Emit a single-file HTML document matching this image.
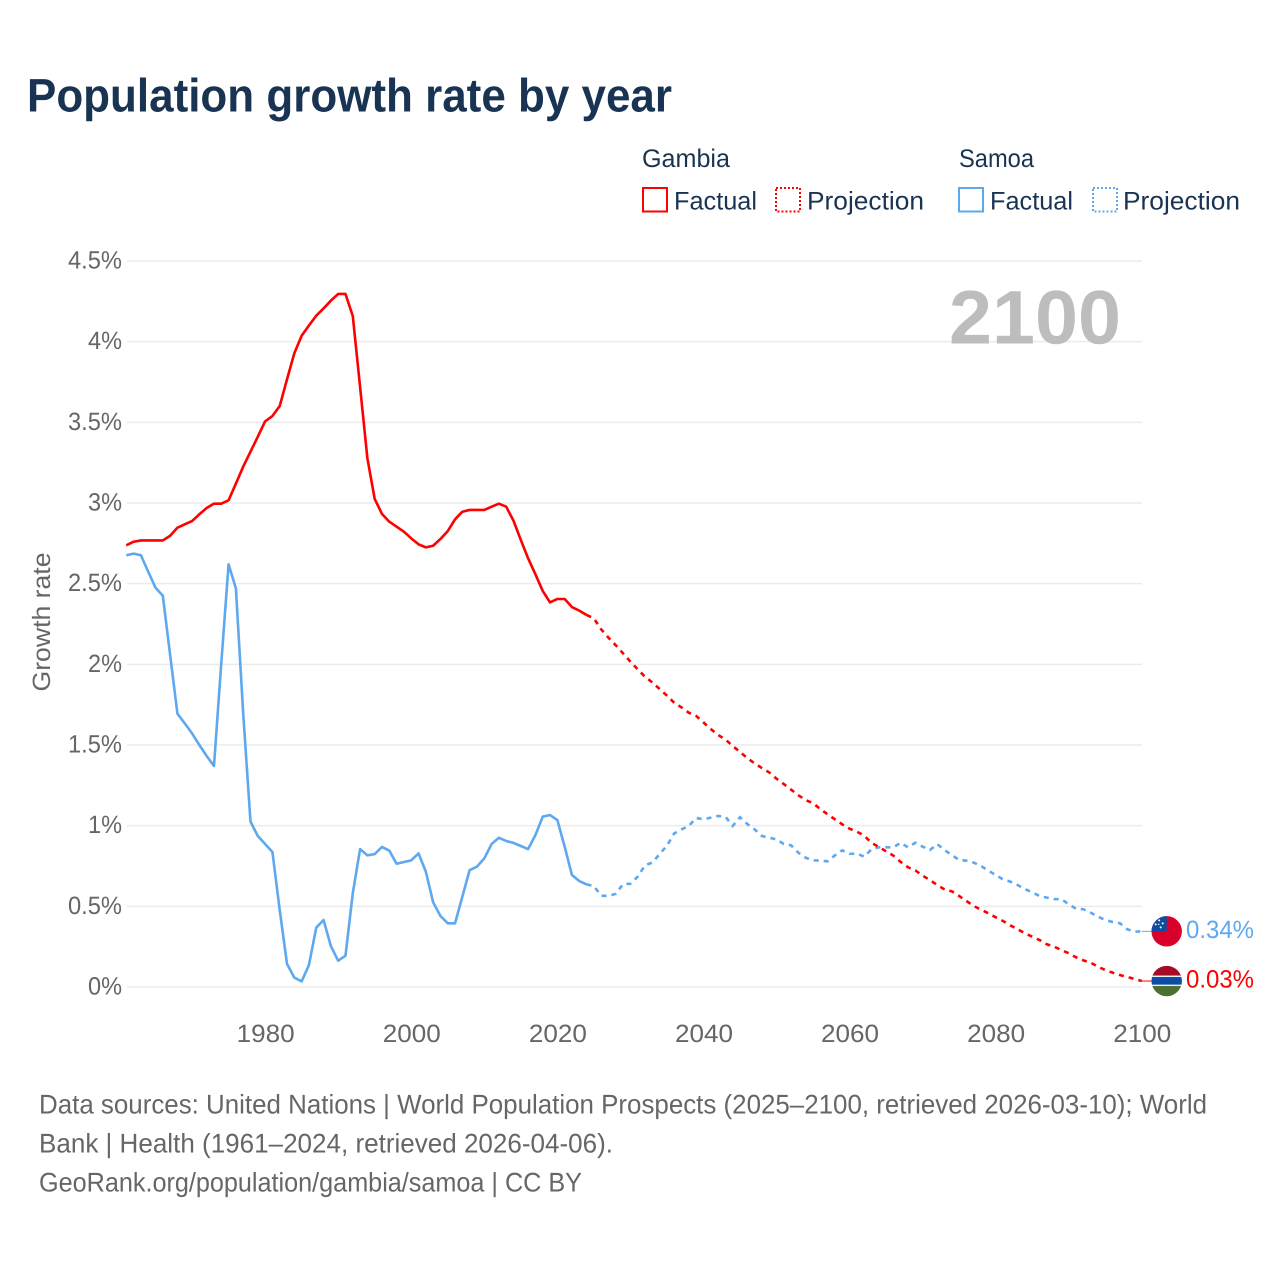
<!DOCTYPE html>
<html lang="en">
<head>
<meta charset="utf-8">
<title>Population growth rate by year</title>
<style>
html,body{margin:0;padding:0;background:#fff;}
svg{display:block;font-family:"Liberation Sans",sans-serif;text-rendering:geometricPrecision;}
</style>
</head>
<body>
<svg id="chart" xmlns="http://www.w3.org/2000/svg" width="1280" height="1280" viewBox="0 0 1280 1280">
  <rect width="1280" height="1280" fill="#fff"/>
  <text x="27" y="111.5" font-size="47" font-weight="700" fill="#193353" textLength="645" lengthAdjust="spacingAndGlyphs">Population growth rate by year</text>

  <g font-size="25.5" fill="#193353">
    <text x="642" y="167" textLength="88" lengthAdjust="spacingAndGlyphs">Gambia</text>
    <rect x="643" y="188" width="24" height="23.5" fill="none" stroke="#ff0000" stroke-width="2"/>
    <text x="674" y="209.5" textLength="83" lengthAdjust="spacingAndGlyphs">Factual</text>
    <rect x="776" y="188" width="24" height="23.5" fill="none" stroke="#ff0000" stroke-width="2" stroke-dasharray="2 2"/>
    <text x="807" y="209.5" textLength="117" lengthAdjust="spacingAndGlyphs">Projection</text>
    <text x="959" y="167" textLength="75" lengthAdjust="spacingAndGlyphs">Samoa</text>
    <rect x="959" y="188" width="24" height="23.5" fill="none" stroke="#5ea8ef" stroke-width="2"/>
    <text x="990" y="209.5" textLength="83" lengthAdjust="spacingAndGlyphs">Factual</text>
    <rect x="1093" y="188" width="24" height="23.5" fill="none" stroke="#5ea8ef" stroke-width="2" stroke-dasharray="2 2"/>
    <text x="1123" y="209.5" textLength="117" lengthAdjust="spacingAndGlyphs">Projection</text>
  </g>

  <g id="grid"></g>
  <g id="yticks" font-size="25" fill="#666"></g>
  <g id="xticks" font-size="25" fill="#666"></g>
  <text transform="translate(50,622) rotate(-90)" text-anchor="middle" font-size="25" fill="#666" textLength="139" lengthAdjust="spacingAndGlyphs">Growth rate</text>
  <text x="949" y="343.5" font-size="76" font-weight="700" fill="#bdbdbd" textLength="172" lengthAdjust="spacingAndGlyphs">2100</text>
  <g id="series"></g>

  <g id="flag-samoa">
    <clipPath id="clip-samoa"><circle cx="0" cy="0" r="15.2"/></clipPath>
    <g clip-path="url(#clip-samoa)">
      <rect x="-16" y="-16" width="32" height="32" fill="#d9002c"/>
      <rect x="-16" y="-16" width="16" height="16" fill="#0b4ea2"/>
      <circle cx="-7.5" cy="-11" r="1" fill="#fff"/><circle cx="-4" cy="-8" r="1" fill="#fff"/>
      <circle cx="-11" cy="-7" r="1" fill="#fff"/><circle cx="-6" cy="-4" r="1" fill="#fff"/>
      <circle cx="-8" cy="-7" r=".7" fill="#fff"/>
    </g>
  </g>
  <g id="flag-gambia">
    <clipPath id="clip-gambia"><circle cx="0" cy="0" r="15.2"/></clipPath>
    <g clip-path="url(#clip-gambia)">
      <rect x="-16" y="-16" width="32" height="11" fill="#a50a26"/>
      <rect x="-16" y="-5.5" width="32" height="11.5" fill="#e8eef5"/>
      <rect x="-16" y="-4" width="32" height="7.6" fill="#0c4ca3"/>
      <rect x="-16" y="5" width="32" height="11" fill="#4c7031"/>
    </g>
  </g>

  <text id="end-label-samoa" x="1186" font-size="25" fill="#5ea8ef" textLength="68" lengthAdjust="spacingAndGlyphs"></text>
  <text id="end-label-gambia" x="1186" font-size="25" fill="#ff0000" textLength="68" lengthAdjust="spacingAndGlyphs"></text>

  <g font-size="27" fill="#666">
    <text x="39" y="1113.5" textLength="1168" lengthAdjust="spacingAndGlyphs">Data sources: United Nations | World Population Prospects (2025–2100, retrieved 2026-03-10); World</text>
    <text x="39" y="1152.5" textLength="574" lengthAdjust="spacingAndGlyphs">Bank | Health (1961–2024, retrieved 2026-04-06).</text>
    <text x="39" y="1191.5" textLength="543" lengthAdjust="spacingAndGlyphs">GeoRank.org/population/gambia/samoa | CC BY</text>
  </g>
</svg>

<script>
const firstYear = 1961;
const lastYear = 2100;
const yTickValues = [0, 0.5, 1, 1.5, 2, 2.5, 3, 3.5, 4, 4.5];
const yTickLabels = ["0%", "0.5%", "1%", "1.5%", "2%", "2.5%", "3%", "3.5%", "4%", "4.5%"];
const xTickYears = [1980, 2000, 2020, 2040, 2060, 2080, 2100];
const endLabelGambia = "0.03%";
const endLabelSamoa = "0.34%";

// 1961-2024
const gambiaFactual = [2.738,2.76,2.768,2.768,2.768,2.768,2.797,2.847,2.868,2.888,2.93,2.969,2.996,2.996,3.017,3.12,3.225,3.318,3.411,3.506,3.539,3.601,3.767,3.928,4.037,4.1,4.161,4.206,4.254,4.296,4.296,4.159,3.72,3.277,3.025,2.932,2.884,2.853,2.822,2.781,2.744,2.725,2.735,2.777,2.826,2.899,2.946,2.957,2.957,2.957,2.977,2.996,2.977,2.89,2.771,2.657,2.558,2.455,2.384,2.405,2.405,2.355,2.333,2.306];
// 2025-2100
const gambiaProjection = [2.285,2.217,2.165,2.118,2.068,2.017,1.969,1.923,1.888,1.847,1.806,1.762,1.733,1.70,1.68,1.64,1.599,1.562,1.535,1.494,1.457,1.419,1.386,1.357,1.33,1.291,1.258,1.223,1.188,1.159,1.139,1.103,1.07,1.039,1.008,0.981,0.963,0.938,0.894,0.868,0.841,0.814,0.775,0.742,0.723,0.69,0.663,0.632,0.605,0.593,0.564,0.533,0.502,0.479,0.457,0.432,0.409,0.382,0.358,0.333,0.312,0.291,0.265,0.25,0.229,0.209,0.184,0.165,0.151,0.126,0.105,0.089,0.074,0.062,0.05,0.037];
// 1961-2024
const samoaFactual = [2.676,2.686,2.676,2.574,2.475,2.425,2.058,1.694,1.634,1.572,1.5,1.432,1.37,2.006,2.62,2.471,1.696,1.025,0.936,0.886,0.837,0.477,0.143,0.058,0.035,0.136,0.368,0.415,0.254,0.163,0.194,0.581,0.855,0.816,0.824,0.868,0.845,0.764,0.775,0.785,0.828,0.715,0.525,0.44,0.395,0.395,0.56,0.725,0.746,0.797,0.886,0.925,0.905,0.893,0.874,0.855,0.942,1.056,1.066,1.035,0.87,0.694,0.657,0.636];
// 2025-2100
const samoaProjection = [0.626,0.566,0.564,0.578,0.638,0.64,0.684,0.754,0.771,0.824,0.876,0.952,0.977,0.998,1.048,1.039,1.05,1.06,1.056,0.998,1.052,1.01,0.977,0.936,0.925,0.915,0.886,0.878,0.832,0.801,0.785,0.783,0.779,0.816,0.847,0.826,0.826,0.808,0.853,0.866,0.866,0.866,0.894,0.866,0.894,0.87,0.849,0.886,0.849,0.818,0.787,0.783,0.771,0.75,0.721,0.694,0.667,0.653,0.632,0.607,0.587,0.564,0.554,0.545,0.544,0.513,0.485,0.482,0.461,0.436,0.415,0.403,0.395,0.358,0.343,0.345];

const NS = "http://www.w3.org/2000/svg";
const plotLeft = 126.3, plotRight = 1141.8, plotBottom = 987, plotTop = 261;
const xScale = function (year) { return plotLeft + (year - firstYear) * (plotRight - plotLeft) / (lastYear - firstYear); };
const yScale = function (v) { return plotBottom - v * (plotBottom - plotTop) / 4.5; };
const FLAG_X = 1166.7;

function makeEl(tag, parent) {
  const el = document.createElementNS(NS, tag);
  parent.appendChild(el);
  return el;
}
function labelWidth(s) {
  let w = 0;
  for (const c of s) { w += c === "." ? 5.5 : c === "%" ? 19.5 : 14.5; }
  return w;
}
function pathFrom(values, startYear, prefixPoint) {
  const pts = values.map(function (v, i) { return xScale(startYear + i).toFixed(2) + "," + yScale(v).toFixed(2); });
  if (prefixPoint) pts.unshift(prefixPoint);
  return "M" + pts.join("L");
}

const gridG = document.getElementById("grid");
const yG = document.getElementById("yticks");
yTickValues.forEach(function (v, i) {
  const line = makeEl("line", gridG);
  
  
  line.setAttribute("x1", 127);
  line.setAttribute("x2", 1142);
  line.setAttribute("y1", yScale(v));
  line.setAttribute("y2", yScale(v));
  line.setAttribute("stroke", "#ebebeb");
  line.setAttribute("stroke-width", "1.5");

  const t = makeEl("text", yG);
  
  
  const w = labelWidth(yTickLabels[i]);
  t.setAttribute("x", 122 - w);
  t.setAttribute("y", yScale(v) + 7.5);
  t.setAttribute("textLength", w);
  t.setAttribute("lengthAdjust", "spacingAndGlyphs");
  t.textContent = yTickLabels[i];
});

const xG = document.getElementById("xticks");
xTickYears.forEach(function (yr) {
  const t = makeEl("text", xG);
  
  
  t.setAttribute("x", xScale(yr) - 28.5);
  t.setAttribute("y", 1042);
  t.setAttribute("textLength", 58);
  t.setAttribute("lengthAdjust", "spacingAndGlyphs");
  t.textContent = String(yr);
});

const seriesG = document.getElementById("series");
function drawSeries(factual, projection, color, prefix) {
  const solid = makeEl("path", seriesG);
  
  
  solid.setAttribute("d", pathFrom(factual, firstYear));
  solid.setAttribute("fill", "none");
  solid.setAttribute("stroke", color);
  solid.setAttribute("stroke-width", "2.6");
  solid.setAttribute("stroke-linejoin", "round");

  const lastFactualYear = firstYear + factual.length - 1;
  const joinPoint = xScale(lastFactualYear).toFixed(2) + "," + yScale(factual[factual.length - 1]).toFixed(2);
  const dash = makeEl("path", seriesG);
  
  
  dash.setAttribute("d", pathFrom(projection, lastFactualYear + 1, joinPoint));
  dash.setAttribute("fill", "none");
  dash.setAttribute("stroke", color);
  dash.setAttribute("stroke-width", "2.6");
  dash.setAttribute("stroke-dasharray", "5 5");

  const endV = projection[projection.length - 1];
  const conn = makeEl("line", seriesG);
  
  
  conn.setAttribute("x1", plotRight);
  conn.setAttribute("x2", FLAG_X - 14);
  conn.setAttribute("y1", yScale(endV));
  conn.setAttribute("y2", yScale(endV));
  conn.setAttribute("stroke", color);
  conn.setAttribute("stroke-width", "1");

  document.getElementById("flag-" + prefix).setAttribute("transform", "translate(" + FLAG_X + "," + yScale(endV) + ")");
  document.getElementById("end-label-" + prefix).setAttribute("y", yScale(endV) + 6.5);
}
drawSeries(samoaFactual, samoaProjection, "#5ea8ef", "samoa");
drawSeries(gambiaFactual, gambiaProjection, "#ff0000", "gambia");
document.getElementById("end-label-samoa").textContent = endLabelSamoa;
document.getElementById("end-label-gambia").textContent = endLabelGambia;
</script>
</body>
</html>
